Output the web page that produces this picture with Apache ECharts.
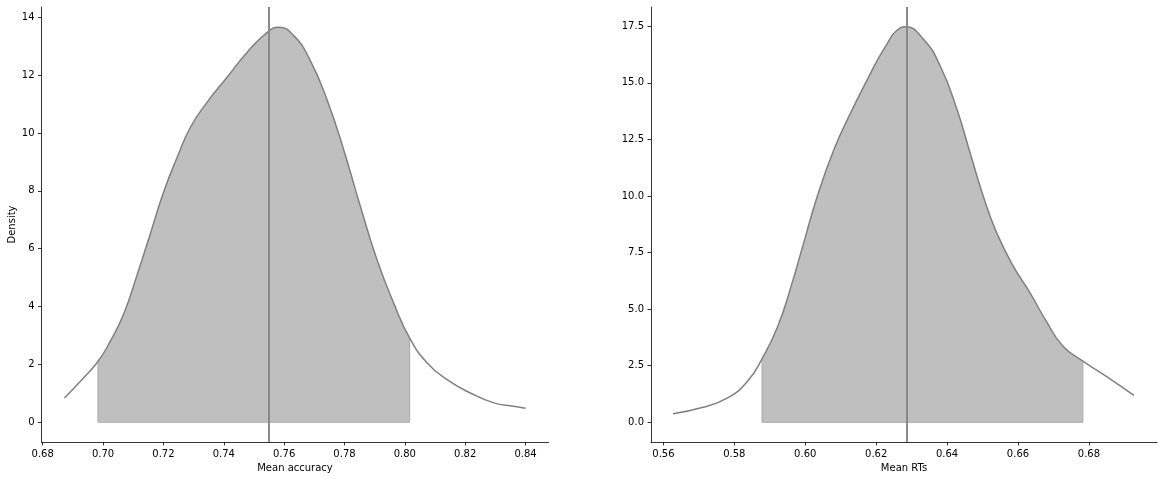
<!DOCTYPE html>
<html>
<head>
<meta charset="utf-8">
<script src="https://cdn.jsdelivr.net/npm/echarts@6/dist/echarts.min.js"></script>
<style>
html,body{margin:0;padding:0;background:#fff;}
#chart{width:1164px;height:480px;}
</style>
</head>
<body>
<div id="chart"></div>
<script>
// ---- Data ----
const accX = [0.6872, 0.6925, 0.6983, 0.7025, 0.7069, 0.7113, 0.7157, 0.7201, 0.7246, 0.7290, 0.7345, 0.7411, 0.7477, 0.7548, 0.7582, 0.7632, 0.7687, 0.7743, 0.7798, 0.7853, 0.7908, 0.7963, 0.8016, 0.8074, 0.8140, 0.8217, 0.8295, 0.8361, 0.8400];
const accY = [0.84, 1.42, 2.10, 2.82, 3.76, 5.10, 6.53, 7.97, 9.17, 10.21, 11.07, 11.93, 12.79, 13.52, 13.66, 13.37, 12.50, 11.13, 9.40, 7.45, 5.61, 4.12, 2.91, 2.05, 1.47, 1.01, 0.67, 0.55, 0.48];
const accInterval = [0.6983, 0.8016];
const accMean = 0.7548;

const rtX = [0.5627, 0.5706, 0.5781, 0.5837, 0.5878, 0.5922, 0.5959, 0.5996, 0.6034, 0.6081, 0.6128, 0.6175, 0.6221, 0.6268, 0.6282, 0.6334, 0.6381, 0.6428, 0.6465, 0.6502, 0.6540, 0.6587, 0.6634, 0.6680, 0.6727, 0.6783, 0.6849, 0.6927];
const rtY = [0.38, 0.64, 1.08, 1.81, 2.80, 4.22, 5.95, 7.95, 9.99, 12.05, 13.67, 15.14, 16.47, 17.43, 17.48, 16.91, 15.73, 13.82, 11.90, 9.99, 8.37, 6.89, 5.72, 4.46, 3.36, 2.70, 2.03, 1.19];
const rtInterval = [0.5878, 0.6783];
const rtMean = 0.6287;

const accXTicks = [0.68, 0.70, 0.72, 0.74, 0.76, 0.78, 0.80, 0.82, 0.84];
const accYTicks = [0, 2, 4, 6, 8, 10, 12, 14];
const rtXTicks = [0.56, 0.58, 0.60, 0.62, 0.64, 0.66, 0.68];
const rtYTicks = [0.0, 2.5, 5.0, 7.5, 10.0, 12.5, 15.0, 17.5];

const accXRange = [0.6796, 0.8476];
const accYRange = [-0.684, 14.36];
const rtXRange = [0.5565, 0.6992];
const rtYRange = [-0.87, 18.35];

// ---- helpers ----
const FONT = 'DejaVu Sans';
function pairs(xs, ys) { return xs.map((x, i) => [x, ys[i]]); }
function within(xs, ys, r) {
  return pairs(xs, ys).filter(p => p[0] >= r[0] - 1e-9 && p[0] <= r[1] + 1e-9);
}
function edges(xs, ys, r) {
  const inside = within(xs, ys, r);
  const a = inside[0], b = inside[inside.length - 1];
  return [[a[0], a[1]], [a[0], 0], [b[0], 0], [b[0], b[1]]];
}
function axisDef(idx, range, ticks, name, dec, gap) {
  return {
    type: 'value', gridIndex: idx, min: range[0], max: range[1],
    name: name, nameLocation: 'middle', nameGap: gap,
    nameTextStyle: {fontFamily: FONT, fontSize: 10, color: '#000'},
    axisLine: {show: true, onZero: false, lineStyle: {color: '#000', width: 0.8}},
    axisTick: {show: true, length: 3.5, lineStyle: {color: '#000', width: 0.8}, customValues: ticks},
    axisLabel: {show: true, margin: 7, fontFamily: FONT, fontSize: 10, color: '#000',
      customValues: ticks, formatter: v => Number(v).toFixed(dec)},
    splitLine: {show: false}
  };
}
function panelSeries(idx, xs, ys, r, mean) {
  return [
    {
      type: 'line', xAxisIndex: idx, yAxisIndex: idx, data: within(xs, ys, r),
      smooth: true, showSymbol: false, silent: true, z: 1,
      lineStyle: {width: 0}, areaStyle: {color: '#bfbfbf', opacity: 1, origin: 0}
    },
    {
      type: 'line', xAxisIndex: idx, yAxisIndex: idx, data: edges(xs, ys, r),
      smooth: false, showSymbol: false, silent: true, z: 2,
      lineStyle: {color: '#ababab', width: 1}
    },
    {
      type: 'line', xAxisIndex: idx, yAxisIndex: idx, data: pairs(xs, ys),
      smooth: true, showSymbol: false, silent: true, z: 3,
      lineStyle: {color: '#808080', width: 1.5},
      markLine: {
        silent: true, precision: 6, symbol: ['none', 'none'], label: {show: false},
        lineStyle: {color: '#8a8a8a', width: 2, type: 'solid'},
        data: [{xAxis: mean}]
      }
    }
  ];
}

const chart = echarts.init(document.getElementById('chart'), null, {renderer: 'canvas'});
chart.setOption({
  animation: false,
  backgroundColor: '#fff',
  grid: [
    {left: 41.5, top: 7, width: 507, height: 435},
    {left: 651, top: 7, width: 506, height: 435}
  ],
  xAxis: [
    axisDef(0, accXRange, accXTicks, 'Mean accuracy', 2, 19),
    axisDef(1, rtXRange, rtXTicks, 'Mean RTs', 2, 19)
  ],
  yAxis: [
    axisDef(0, accYRange, accYTicks, 'Density', 0, 24),
    axisDef(1, rtYRange, rtYTicks, '', 1, 24)
  ],
  series: [].concat(
    panelSeries(0, accX, accY, accInterval, accMean),
    panelSeries(1, rtX, rtY, rtInterval, rtMean)
  )
});
</script>
</body>
</html>
